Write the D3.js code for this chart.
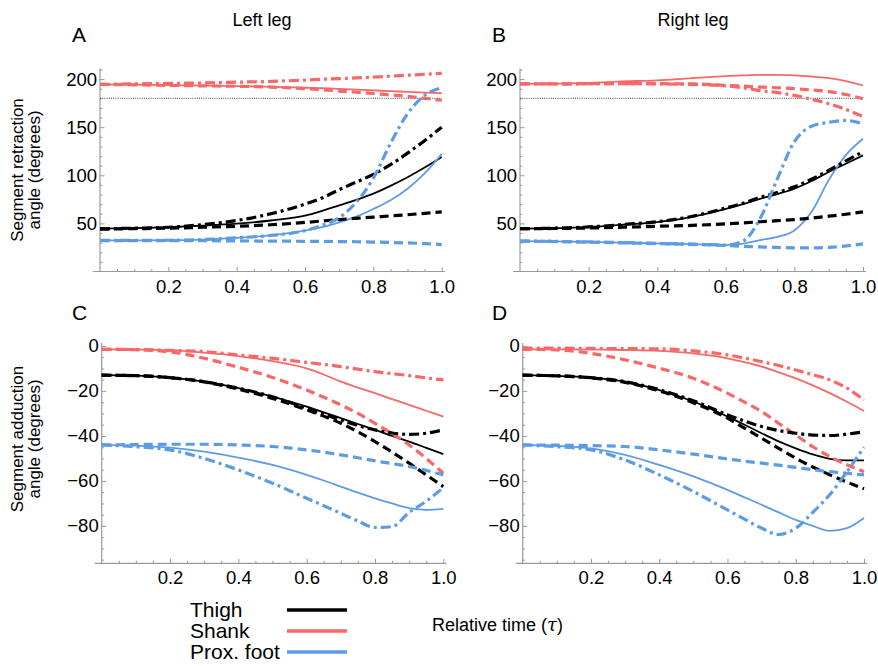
<!DOCTYPE html>
<html><head><meta charset="utf-8">
<script src="https://cdn.jsdelivr.net/npm/d3@7"></script>
<style>
body{margin:0;background:#fff;}
svg{display:block;font-family:"Liberation Sans",Arial,Helvetica,sans-serif;}
</style></head><body>
<svg id="chart" width="878" height="666"></svg>
<script>
// Relative time grid
const tau = [0,0.1,0.2,0.3,0.4,0.5,0.6,0.65,0.7,0.75,0.8,0.85,0.9,0.95,1.0];
const xTickValues = [0.2,0.4,0.6,0.8,1.0];
const xTickLabels = ["0.2","0.4","0.6","0.8","1.0"];
const retractTicks = [50,100,150,200];
const adductTicks = [0,-20,-40,-60,-80];
const segments = ["Thigh","Shank","Prox. foot"];
const columnTitles = ["Left leg","Right leg"];
const panelLetters = ["A","B","C","D"];
const referenceAngle = 180;

// Panel A: left leg, retraction
const A_thigh_solid   = [44.5,45,46,47.6,49.7,53,58,63,68.7,74.5,81,89,98,108,119];
const A_thigh_dashed  = [44,44.5,45,46,47,48.6,51,52.5,54,55.3,56.5,57.8,59,60.5,62];
const A_thigh_dotdash = [44.5,45,46,48.7,53,60,70,76.5,85,93,101,111,123,136,150];
const A_shank_solid   = [194.5,194.2,193.8,193.3,192.7,192,191,190.5,189.8,189,188.2,187.5,186.7,186,185.3];
const A_shank_dashed  = [194.5,194,193.5,193,192.5,191.7,190,189,187.5,186.3,185,183.5,182,180,178];
const A_shank_dotdash = [194.5,195,195.5,196,196.8,197.6,199,199.8,200.5,201.2,202,203,204,205,206];
const A_foot_solid    = [32.3,32.3,32.5,33.2,35,37.5,42.5,46,51,57,65,74,86,102,122];
const A_foot_dashed   = [32,32,32,32,31.8,31.6,31.4,31.3,31.1,30.9,30.6,30.2,29.7,29,28];
const A_foot_dotdash  = [32.3,32.3,32.5,33.2,35,37.5,42.5,48,56,72,97,133,164,183,191];

// Panel B: right leg, retraction
const B_thigh_solid   = [44.5,45,46.2,48.6,51.4,56.6,65,70,75.6,80.5,86,94,103.4,112,120.7];
const B_thigh_dashed  = [44.5,44.7,45.2,46,47,47.9,49.5,50.5,51.7,52.8,54,55.5,57.5,59.5,62];
const B_thigh_dotdash = [44.5,45,46.3,48.8,51.8,57.2,66,71,77,82,88,96,105,115,124.5];
const B_shank_solid   = [195,195.3,196,197.6,198.6,201,203,203.8,204.3,204.3,203.8,202.7,201,198,193.5];
const B_shank_dashed  = [195,195,195.2,195.3,195.2,195,193.5,192.7,191.7,191,190,188.7,187,184,179.5];
const B_shank_dotdash = [195,195,195.2,195.3,195,194.5,193,191,188,186,183,179,174.4,168.5,161];
const B_foot_solid    = [31.6,31.3,30.7,30,29.2,28.5,27.5,29,32.5,36,42.7,62,95,121,138];
const B_foot_dashed   = [31.6,31.2,30.5,29.8,29,28.2,27,26.2,25.5,25,24.6,24.5,25,26.5,28.8];
const B_foot_dotdash  = [31.6,31.3,30.7,30,29.2,28.5,27.5,31.6,55,96,135,151,155,157,153.5];

// Panel C: left leg, adduction
const C_thigh_solid   = [-13,-13.2,-14.1,-15.9,-18.8,-22.5,-27,-29.5,-32.1,-34.7,-37.3,-40,-42.5,-45.3,-48.1];
const C_thigh_dashed  = [-13,-13.2,-14.1,-16,-19.2,-23.3,-28.4,-31.2,-34.4,-38.2,-42.5,-47.2,-52.1,-57.3,-62.5];
const C_thigh_dotdash = [-13,-13.2,-14.1,-15.9,-18.8,-22.6,-27.7,-30.5,-32.9,-35.4,-37.3,-38.7,-39.3,-38.8,-37.3];
const C_shank_solid   = [-1.5,-1.6,-1.9,-3,-4.5,-6.8,-10,-12.7,-15.9,-18.5,-21,-23.6,-26.2,-28.8,-31.4];
const C_shank_dashed  = [-1.5,-1.7,-2.7,-5.5,-9.5,-14,-19.6,-22.8,-26.2,-30,-34.4,-39,-44,-50,-56.6];
const C_shank_dotdash = [-1.5,-1.6,-2,-2.5,-4,-5.5,-7.3,-8.2,-9.2,-10.3,-11.4,-12.3,-13.2,-14.2,-15.1];
const C_foot_solid    = [-44,-44.3,-45.2,-47,-49.6,-52.9,-57.3,-59.8,-62.5,-65.2,-67.7,-70,-72.1,-72.9,-72.4];
const C_foot_dashed   = [-44,-43.8,-43.7,-43.7,-44,-44.7,-46.2,-47.2,-48.4,-49.7,-51.1,-52.3,-53.6,-55.3,-57.3];
const C_foot_dotdash  = [-44,-44.8,-46.2,-50,-55.1,-61,-67.7,-71,-74.4,-77.8,-80.7,-80.3,-74,-69,-63];

// Panel D: right leg, adduction
const D_thigh_solid   = [-13,-13.3,-14.1,-15.9,-19.6,-24.7,-31.4,-35,-38.8,-42.4,-45.5,-48.2,-50.2,-50.9,-50.9];
const D_thigh_dashed  = [-13,-13.3,-14.2,-16.2,-20,-25.3,-32.1,-36.5,-41,-45.5,-49.9,-53.8,-57.3,-60.5,-63.5];
const D_thigh_dotdash = [-13,-13.3,-14.1,-15.9,-19.4,-24.4,-30.6,-33.4,-35.8,-37.6,-38.8,-39.6,-39.8,-39.2,-38.1];
const D_shank_solid   = [-1.5,-1.5,-1.6,-1.8,-2.2,-3.3,-5.5,-7.2,-9.2,-11.7,-14.4,-17.5,-21,-24.8,-28.9];
const D_shank_dashed  = [-1.5,-1.8,-3.3,-6.2,-9.9,-14.4,-21,-25,-29.2,-34.4,-39.6,-44.8,-49.2,-52.8,-55.9];
const D_shank_dotdash = [-1,-1,-1.1,-1.2,-1.3,-2.2,-4,-5.4,-7,-8.7,-10.7,-12.8,-15.1,-18.8,-24];
const D_foot_solid    = [-44,-44.4,-45.5,-48.4,-52.9,-58,-64,-67.3,-70.6,-74,-77.3,-80,-82.2,-81,-76.5];
const D_foot_dashed   = [-44,-44.1,-44.3,-44.7,-46.2,-48.1,-50.2,-51.2,-52.1,-53,-54,-55,-55.9,-56.6,-57.3];
const D_foot_dotdash  = [-44,-44.8,-46.2,-50.7,-57.3,-64.7,-72.9,-77,-81,-83.8,-81,-74,-66,-56,-45];

const colors = {Thigh:"#000000", Shank:"#f86868", "Prox. foot":"#5d9ce4"};
const styles = {
  solid:   {w:1.8, dash:null},
  dashed:  {w:3.2, dash:"9,5"},
  dotdash: {w:3.2, dash:"10,4,3,4"}
};

const panels = [
  {letter:"A", xr:[100,441.7], yr:[271.5,68.5], yd:[0,211], ticks:retractTicks, minor:10, ref:true,
   data:{Thigh:{solid:A_thigh_solid,dashed:A_thigh_dashed,dotdash:A_thigh_dotdash},
         Shank:{solid:A_shank_solid,dashed:A_shank_dashed,dotdash:A_shank_dotdash},
         "Prox. foot":{solid:A_foot_solid,dashed:A_foot_dashed,dotdash:A_foot_dotdash}},
   lx:72, ly:41.7},
  {letter:"B", xr:[520,863], yr:[271.5,68.5], yd:[0,211], ticks:retractTicks, minor:10, ref:true,
   data:{Thigh:{solid:B_thigh_solid,dashed:B_thigh_dashed,dotdash:B_thigh_dotdash},
         Shank:{solid:B_shank_solid,dashed:B_shank_dashed,dotdash:B_shank_dotdash},
         "Prox. foot":{solid:B_foot_solid,dashed:B_foot_dashed,dotdash:B_foot_dotdash}},
   lx:492, ly:41.7},
  {letter:"C", xr:[101.7,443.3], yr:[563.3,343], yd:[-96.6,1.3], ticks:adductTicks, minor:5, ref:false,
   data:{Thigh:{solid:C_thigh_solid,dashed:C_thigh_dashed,dotdash:C_thigh_dotdash},
         Shank:{solid:C_shank_solid,dashed:C_shank_dashed,dotdash:C_shank_dotdash},
         "Prox. foot":{solid:C_foot_solid,dashed:C_foot_dashed,dotdash:C_foot_dotdash}},
   lx:72, ly:320},
  {letter:"D", xr:[522.7,864], yr:[563.3,343], yd:[-96.6,1.3], ticks:adductTicks, minor:5, ref:false,
   data:{Thigh:{solid:D_thigh_solid,dashed:D_thigh_dashed,dotdash:D_thigh_dotdash},
         Shank:{solid:D_shank_solid,dashed:D_shank_dashed,dotdash:D_shank_dotdash},
         "Prox. foot":{solid:D_foot_solid,dashed:D_foot_dashed,dotdash:D_foot_dotdash}},
   lx:492, ly:320}
];

const svg = d3.select("#chart");
const axisColor = "#9a9a9a";
const fmtY = d => d < 0 ? "\u2212" + Math.abs(d) : String(d);

panels.forEach(p => {
  const x = d3.scaleLinear().domain([0,1]).range(p.xr);
  const y = d3.scaleLinear().domain(p.yd).range(p.yr);
  const g = svg.append("g");

  // axis lines
  g.append("line").attr("x1", x(0)).attr("x2", x(0)).attr("y1", p.yr[1]).attr("y2", p.yr[0])
    .attr("stroke", axisColor).attr("stroke-width", 1.2);
  g.append("line").attr("x1", x(0) - 7).attr("x2", x(1) + 3).attr("y1", p.yr[0]).attr("y2", p.yr[0])
    .attr("stroke", axisColor).attr("stroke-width", 1.2);

  // minor ticks
  const yMinor = d3.range(Math.ceil(p.yd[0]/p.minor)*p.minor, p.yd[1] + 0.001, p.minor)
    .filter(v => !p.ticks.includes(v) && Math.abs(v - p.yd[0]) > 1);
  const ym = g.append("g").attr("transform", `translate(${x(0)},0)`)
    .call(d3.axisLeft(y).tickValues(yMinor).tickSize(-2.5).tickFormat(""));
  const xMinor = d3.range(0.05, 1.0001, 0.05).filter(v => Math.abs((v*10) % 2) > 0.01 && Math.abs((v*10)%2 - 2) > 0.01);
  const xm = g.append("g").attr("transform", `translate(0,${p.yr[0]})`)
    .call(d3.axisBottom(x).tickValues(xMinor).tickSize(-2.5).tickFormat(""));

  // major ticks
  const ya = g.append("g").attr("transform", `translate(${x(0)},0)`)
    .call(d3.axisLeft(y).tickValues(p.ticks).tickSize(-4.5).tickPadding(3).tickFormat(fmtY));
  const xa = g.append("g").attr("transform", `translate(0,${p.yr[0]})`)
    .call(d3.axisBottom(x).tickValues(xTickValues).tickSize(-4.5).tickPadding(8)
      .tickFormat((d,i) => xTickLabels[i]));

  [ym, xm, ya, xa].forEach(a => {
    a.select(".domain").remove();
    a.selectAll(".tick line").attr("stroke", axisColor);
    a.selectAll("text").attr("fill", "#000").style("font-size", "18.5px")
      .style("font-family", '"Liberation Sans",Arial,sans-serif');
  });

  // reference line at 180 deg
  if (p.ref) {
    g.append("line").attr("x1", x(0)).attr("x2", x(1)).attr("y1", y(referenceAngle)).attr("y2", y(referenceAngle))
      .attr("stroke", "#444").attr("stroke-width", 1).attr("stroke-dasharray", "1,1.2");
  }

  // curves
  const line = d3.line().x((d,i) => x(tau[i])).y(d => y(d)).curve(d3.curveMonotoneX);
  ["solid","dashed","dotdash"].forEach(st => {
    segments.forEach(seg => {
      g.append("path").datum(p.data[seg][st])
        .attr("d", line)
        .attr("fill", "none")
        .attr("stroke", colors[seg])
        .attr("stroke-width", styles[st].w)
        .attr("stroke-dasharray", styles[st].dash)
        .attr("stroke-linejoin", "round");
    });
  });

  // panel letter
  svg.append("text").attr("x", p.lx).attr("y", p.ly).text(p.letter)
    .style("font-size", "21px").attr("fill", "#000");
});

// column titles
svg.append("text").attr("x", 262).attr("y", 26).attr("text-anchor", "middle")
  .style("font-size", "18px").text(columnTitles[0]);
svg.append("text").attr("x", 693).attr("y", 26).attr("text-anchor", "middle")
  .style("font-size", "18px").text(columnTitles[1]);

// y-axis titles
function yTitle(cy, l1, l2) {
  svg.append("text").attr("transform", `translate(22.5,${cy}) rotate(-90)`)
    .attr("text-anchor", "middle").style("font-size", "17px").text(l1);
  svg.append("text").attr("transform", `translate(39.5,${cy}) rotate(-90)`)
    .attr("text-anchor", "middle").style("font-size", "17px").text(l2);
}
yTitle(170, "Segment retraction", "angle (degrees)");
yTitle(439, "Segment adduction", "angle (degrees)");

// legend
segments.forEach((s, i) => {
  const cy = 610 + i * 21;
  svg.append("text").attr("x", 190).attr("y", cy + 7).style("font-size", "21px").text(s);
  svg.append("line").attr("x1", 287).attr("x2", 347).attr("y1", cy).attr("y2", cy)
    .attr("stroke", colors[s]).attr("stroke-width", 3.5);
});

// x-axis title
const xt = svg.append("text").attr("x", 432).attr("y", 631).style("font-size", "18px");
xt.append("tspan").text("Relative time (");
xt.append("tspan").style("font-family", '"DejaVu Serif","Liberation Serif",serif').style("font-style", "italic").text("\u03C4");
xt.append("tspan").text(")");
</script>
</body></html>
